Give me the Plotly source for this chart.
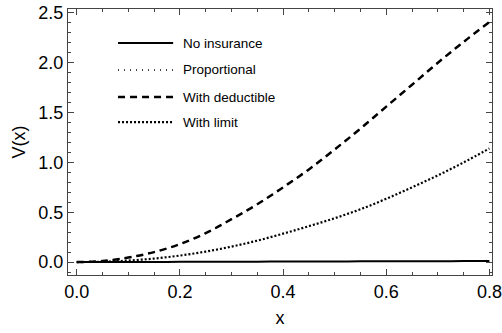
import plotly.graph_objects as go

x_vals = [0.0, 0.05, 0.1, 0.15, 0.2, 0.25, 0.3, 0.35, 0.4, 0.45, 0.5, 0.55, 0.6, 0.65, 0.7, 0.75, 0.8]
no_insurance = [0.0, 0.0003, 0.001, 0.0015, 0.002, 0.003, 0.0035, 0.004, 0.005, 0.0055, 0.006, 0.007, 0.0075, 0.008, 0.009, 0.0095, 0.01]
proportional = [0.0, 0.01, 0.045, 0.10, 0.18, 0.29, 0.43, 0.58, 0.75, 0.93, 1.13, 1.34, 1.56, 1.78, 2.0, 2.21, 2.41]
with_deductible = [0.0, 0.01, 0.045, 0.10, 0.18, 0.29, 0.43, 0.58, 0.75, 0.93, 1.13, 1.34, 1.56, 1.78, 2.0, 2.21, 2.41]
with_limit = [0.0, 0.003, 0.015, 0.035, 0.065, 0.105, 0.155, 0.215, 0.285, 0.36, 0.44, 0.53, 0.635, 0.75, 0.87, 1.0, 1.14]

series_names = ["No insurance", "Proportional", "With deductible", "With limit"]
x_ticks = [0.0, 0.2, 0.4, 0.6, 0.8]
y_ticks = [0.0, 0.5, 1.0, 1.5, 2.0, 2.5]

styles = [
    dict(color="black", width=2, dash="solid"),
    dict(color="black", width=1.5, dash="1px,5px"),
    dict(color="black", width=2.5, dash="7px,5px"),
    dict(color="black", width=2.2, dash="2px,2px"),
]
series = [no_insurance, proportional, with_deductible, with_limit]

fig = go.Figure()
for name, ys, st in zip(series_names, series, styles):
    fig.add_trace(go.Scatter(x=x_vals, y=ys, mode="lines", name=name,
                             line=dict(**st, shape="spline"), showlegend=False))

# manual legend (longer line samples like the reference)
leg_y = [0.872, 0.771, 0.669, 0.575]
for name, st, yy in zip(series_names, styles, leg_y):
    fig.add_shape(type="line", xref="paper", yref="paper", x0=0.118, x1=0.248, y0=yy, y1=yy,
                  line=st)
    fig.add_annotation(xref="paper", yref="paper", x=0.266, y=yy, text=name, showarrow=False,
                       xanchor="left", yanchor="middle",
                       font=dict(family="Liberation Sans, Arial", size=13.5, color="black"))

font_ax = dict(family="Liberation Sans, Arial", size=18, color="black")
axis_common = dict(
    showgrid=False, zeroline=False, showline=True, linecolor="#444", linewidth=1,
    mirror="ticks", ticks="inside", ticklen=6, tickcolor="#444",
    tickfont=font_ax, automargin=False,
)

fig.update_xaxes(**axis_common, range=[-0.017, 0.805], tickvals=x_ticks,
                 ticktext=[f"{v:.1f}" for v in x_ticks],
                 minor=dict(ticks="inside", ticklen=3, dtick=0.05, tick0=0, tickcolor="#444"),
                 title=dict(text="x", font=font_ax, standoff=10))
fig.update_yaxes(**axis_common, range=[-0.13, 2.54], tickvals=y_ticks,
                 ticktext=[f"{v:.1f}" for v in y_ticks],
                 minor=dict(ticks="inside", ticklen=3, dtick=0.1, tick0=0, tickcolor="#444"),
                 title=dict(text="V(x)", font=font_ax, standoff=8))

fig.update_layout(
    width=502, height=333,
    margin=dict(l=68, r=10, t=9, b=58),
    plot_bgcolor="white", paper_bgcolor="white",
    showlegend=False,
)

fig.write_html("out.html")
